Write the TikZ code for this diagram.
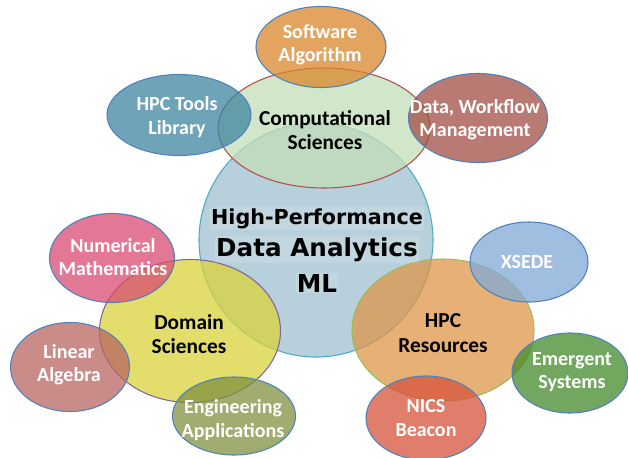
\documentclass[tikz,border=0pt]{standalone}
\usepackage{fontspec}
\setmainfont{Carlito}
\newfontfamily\headfont{DejaVu Sans}
\usetikzlibrary{shapes.geometric}

\definecolor{edgeblue}{HTML}{4F81BD}
\definecolor{edgered}{HTML}{B0504D}
\definecolor{edgepurple}{HTML}{8064A2}
\definecolor{edgegreen}{HTML}{9BBB59}
\definecolor{edgeaqua}{HTML}{4BACC6}

\definecolor{hpdafill}{HTML}{9FC0D0}
\definecolor{compfill}{HTML}{C3DEB7}
\definecolor{domainfill}{HTML}{DAD33A}
\definecolor{resfill}{HTML}{DE964A}
\definecolor{softfill}{HTML}{DA862A}
\definecolor{toolsfill}{HTML}{3F84A0}
\definecolor{datafill}{HTML}{A24E44}
\definecolor{numfill}{HTML}{D84B72}
\definecolor{linfill}{HTML}{B76662}
\definecolor{engfill}{HTML}{809040}
\definecolor{xsedefill}{HTML}{80AAD6}
\definecolor{emergfill}{HTML}{438A2B}
\definecolor{nicsfill}{HTML}{D6533A}

\begin{document}
\begin{tikzpicture}[
            x = 0.75pt, y = -0.75pt, % pixel grid, y pointing down
            line width = 0.8pt % outline style
        ]

        \tikzstyle{bubble}=[
            ellipse,
            inner sep = 0pt,
            fill opacity = 0.75,
            draw = edgeblue
        ]
        \tikzstyle{whitetext}=[
            text = white,
            align = center,
            font = \bfseries\fontsize{15}{17.5}\selectfont
        ]
        \tikzstyle{blacktext}=[
            text = black,
            align = center,
            font = \bfseries\fontsize{16}{18.5}\selectfont
        ]
        \tikzstyle{headtext}=[
            text = black,
            anchor = base,
            inner sep = 1pt,
            fill = white,
            fill opacity = 0.15,
            text opacity = 1
        ]

        \useasboundingbox (0,0) rectangle (628,457);

        % main bubbles
        \node[bubble, fill=hpdafill, draw=edgeaqua, minimum width=175.5pt, minimum height=175.5pt] (hpda) at (316,240) {};
        \node[bubble, fill=compfill, draw=edgered, minimum width=159pt, minimum height=90pt] (comp) at (324,128) {};
        \node[bubble, fill=domainfill, draw=edgepurple, minimum width=135.75pt, minimum height=107.25pt] (domain) at (190,331) {};
        \node[bubble, fill=resfill, draw=edgegreen, minimum width=136.5pt, minimum height=106.5pt] (res) at (443,330) {};

        % satellites
        \node[bubble, fill=softfill, minimum width=97.5pt, minimum height=60.75pt] (soft) at (321,47) {};
        \node[bubble, fill=toolsfill, minimum width=108pt, minimum height=60.75pt] (tools) at (179,115) {};
        \node[bubble, fill=datafill, minimum width=104.25pt, minimum height=66.75pt] (data) at (478,118) {};
        \node[bubble, fill=numfill, minimum width=93.75pt, minimum height=66.75pt] (num) at (112,258) {};
        \node[bubble, fill=linfill, minimum width=89.25pt, minimum height=66.75pt] (lin) at (70,367) {};
        \node[bubble, fill=engfill, minimum width=92.25pt, minimum height=58.5pt] (eng) at (234,416) {};
        \node[bubble, fill=xsedefill, minimum width=88.5pt, minimum height=60pt] (xsede) at (529,262) {};
        \node[bubble, fill=emergfill, minimum width=87pt, minimum height=60pt] (emerg) at (570,373) {};
        \node[bubble, fill=nicsfill, minimum width=90pt, minimum height=63pt] (nics) at (426,418) {};

        % labels
        \node[blacktext] (compL) at (325,130) {Computational\\Sciences};
        \node[blacktext] (domainL) at (189,334) {Domain\\Sciences};
        \node[blacktext] (resL) at (443,333) {HPC\\Resources};

        \node[whitetext] (softL) at (320,45) {Software\\Algorithm};
        \node[whitetext] (toolsL) at (177,117) {HPC Tools\\Library};
        \node[whitetext] (dataL) at (475,120) {Data, Workflow\\Management};
        \node[whitetext] (numL) at (113,257) {Numerical\\Mathematics};
        \node[whitetext] (linL) at (69,365) {Linear\\Algebra};
        \node[whitetext] (engL) at (233,420) {Engineering\\Applications};
        \node[whitetext] (xsedeL) at (527,262) {XSEDE};
        \node[whitetext] (emergL) at (572,372) {Emergent\\Systems};
        \node[whitetext] (nicsL) at (426,418) {NICS\\Beacon};

        \node[headtext, font=\headfont\bfseries\fontsize{15.5}{18}\selectfont] (hpdaA) at (317,224) {High-Performance};
        \node[headtext, font=\headfont\bfseries\fontsize{18.5}{22}\selectfont] (hpdaB) at (317,256) {Data Analytics};
        \node[headtext, font=\headfont\bfseries\fontsize{18.5}{22}\selectfont] (hpdaC) at (317,292) {ML};

    \end{tikzpicture}
\end{document}
